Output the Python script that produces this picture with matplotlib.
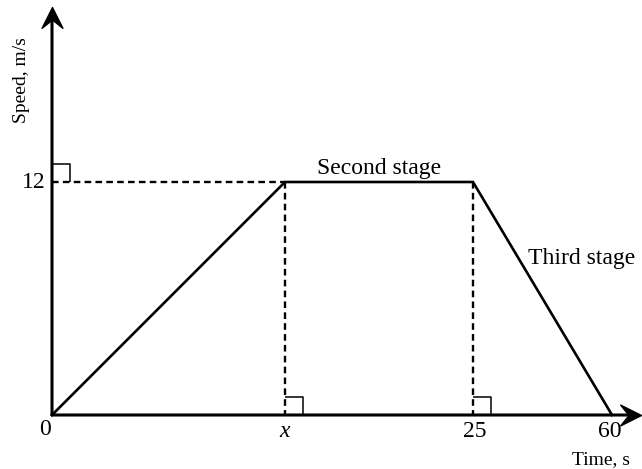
import numpy as np
import matplotlib
matplotlib.use("Agg")
import matplotlib.pyplot as plt
from matplotlib.path import Path
from matplotlib.markers import MarkerStyle
from matplotlib.transforms import Affine2D, blended_transform_factory

# Speed–time profile (schematic): accelerate, cruise, decelerate
times = [0, 10, 25, 60]          # s  (second value is the unknown "x")
speeds = [0, 12, 12, 0]          # m/s
time_labels = ["0", "x", "25", "60"]
speed_ticks = [12]
speed_labels = ["12"]
stage_names = ["Second stage", "Third stage"]

# The time axis is drawn schematically: piecewise-linear spacing between the marked times
knot_t = np.array([-60.0, 0.0, 10.0, 25.0, 60.0, 120.0])
knot_p = np.array([-1398.0, 0.0, 233.0, 421.0, 560.0, 798.3])


def fwd(t):
    return np.interp(t, knot_t, knot_p)


def inv(p):
    return np.interp(p, knot_p, knot_t)


plt.rcParams["font.family"] = ["Liberation Serif", "DejaVu Serif"]

fig = plt.figure(figsize=(6.42, 4.69), dpi=100)
ax = fig.add_axes([0, 0, 1, 1])
ax.set_xscale("function", functions=(fwd, inv))
ax.set_xlim(inv(-52.0), inv(590.0))
ax.set_ylim(-54.0 / 19.417, 415.0 / 19.417)
ax.axis("off")

black = "black"

# Axes with arrowheads
arrow_head = Path([(0, 0), (-1, 0.5), (-0.6, 0), (-1, -0.5), (0, 0)],
                  [Path.MOVETO, Path.LINETO, Path.LINETO, Path.LINETO, Path.CLOSEPOLY])
x_tr = blended_transform_factory(ax.transAxes, ax.transData)
y_tr = blended_transform_factory(ax.transData, ax.transAxes)

ax.annotate("", xy=(0.9985, 0), xycoords=x_tr, xytext=(0, 0), textcoords="data",
            arrowprops=dict(arrowstyle="-", lw=2.2, color=black, shrinkA=0, shrinkB=8))
ax.annotate("", xy=(0, 0.985), xycoords=y_tr, xytext=(0, 0), textcoords="data",
            arrowprops=dict(arrowstyle="-", lw=2.2, color=black, shrinkA=0, shrinkB=8))
ax.plot([0.9985], [0], transform=x_tr, marker=MarkerStyle(arrow_head), ms=30,
        color=black, mec=black, mew=1, clip_on=False)
ax.plot([0], [0.985], transform=y_tr,
        marker=MarkerStyle(arrow_head, transform=Affine2D().rotate_deg(90)),
        ms=30, color=black, mec=black, mew=1, clip_on=False)

# Speed profile
ax.plot(times, speeds, color=black, lw=1.9, solid_joinstyle="miter", zorder=3)

# Dashed guide lines
dash_kw = dict(color=black, lw=1.7, dashes=(2.8, 1.8), zorder=2)
ax.plot([times[0], times[1]], [speeds[1], speeds[1]], **dash_kw)
ax.plot([times[1], times[1]], [speeds[1], 0], **dash_kw)
ax.plot([times[2], times[2]], [speeds[2], 0], **dash_kw)

# Right-angle markers
corner = MarkerStyle(Path([(0, 1), (1, 1), (1, 0)],
                          [Path.MOVETO, Path.LINETO, Path.LINETO]))
corner_kw = dict(marker=corner, ms=26, mfc="none", mec=black, mew=1.1,
                 linestyle="none", zorder=2)
ax.plot([times[0]], [speed_ticks[0]], **corner_kw)
ax.plot([times[1], times[2]], [0, 0], **corner_kw)

# Tick labels on the time axis
fs = 17
label_dx = [-5, 0, 1.5, -1.5]
for t, lab, dx in zip(times, time_labels, label_dx):
    style = "italic" if lab == "x" else "normal"
    ax.annotate(lab, xy=(t, 0), xytext=(dx, -15.6 if lab != "0" else -14.4),
                textcoords="offset points", ha="center", va="baseline",
                fontsize=fs, fontstyle=style, color=black)

# Tick label on the speed axis
for v, lab in zip(speed_ticks, speed_labels):
    ax.annotate(lab, xy=(0, v), xytext=(-4.5, -4), textcoords="offset points",
                ha="right", va="baseline", fontsize=fs, color=black)

# Stage labels
ax.annotate(stage_names[0], xy=(0.5 * (times[1] + times[2]), speeds[1]),
            xytext=(0, 5.5), textcoords="offset points", ha="center",
            va="baseline", fontsize=fs, color=black)
ax.text(38.85, (415 - 264) / 19.417, stage_names[1], ha="left", va="baseline",
        fontsize=fs, color=black)

# Axis titles
fig.text(22 / 642, 1 - 80 / 469, "Speed, m/s", rotation=90, ha="center",
         va="center", fontsize=14, color=black)
ax.annotate("Time, s", xy=(times[3], 0), xytext=(-29, -35), textcoords="offset points",
            ha="left", va="baseline", fontsize=14, color=black, annotation_clip=False)

fig.savefig("out.png", dpi=100)
